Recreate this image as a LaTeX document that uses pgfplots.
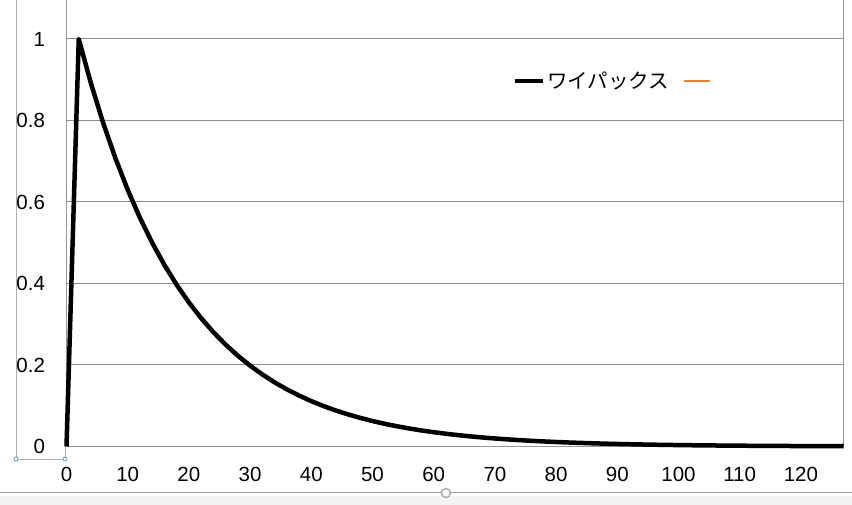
\documentclass[border=0pt]{standalone}
\usepackage{fontspec}
\setmainfont{Liberation Sans}
\newfontfamily\jp{Noto Sans CJK JP}
\usepackage{pgfplots}
\pgfplotsset{compat=1.18}
\definecolor{gridgray}{RGB}{140,140,140}
\definecolor{axgray}{RGB}{150,150,150}
\definecolor{xlorange}{RGB}{237,125,49}
\definecolor{uigray}{RGB}{165,165,165}
\definecolor{uibg}{RGB}{243,243,243}
\definecolor{selblue}{RGB}{91,155,213}
\definecolor{selgray}{RGB}{175,175,175}
\pgfplotsset{
  leglong/.style={legend image code/.code={\draw[##1] (0pt,0pt) -- (28pt,0pt);}},
  legshort/.style={legend image code/.code={\draw[##1] (0pt,0pt) -- (26pt,0pt);}},
}
\begin{document}
\begin{tikzpicture}
\useasboundingbox (0pt,0pt) rectangle (852pt,505pt);
\fill[white] (0pt,0pt) rectangle (852pt,505pt);
% bottom strip
\fill[uibg] (0pt,0pt) rectangle (852pt,9pt);
\draw[uigray, line width=1pt] (0pt,12pt) -- (852pt,12pt);
\draw[uigray, line width=1.3pt, fill=white] (446pt,12pt) circle (4.5pt);
% selection box round the y labels
\draw[selgray, line width=0.8pt] (16pt,505pt) -- (16pt,46pt) -- (65pt,46pt) -- (65pt,58.5pt);
\begin{axis}[
  at={(66.5pt,58.5pt)}, anchor=south west,
  x=6.12pt, y=407.5pt,
  xmin=0, xmax=127, ymin=0, ymax=1.1,
  clip=false,
  axis line style={axgray, line width=1pt},
  ymajorgrids, major grid style={gridgray, line width=1pt},
  xtick={0,10,...,120}, ytick={0,0.2,0.4,0.6,0.8,1},
  yticklabels={0,0.2,0.4,0.6,0.8,1},
  major tick length=0pt,
  tick label style={font=\fontsize{20.5}{24}\selectfont},
  /pgf/number format/assume math mode=true,
  xticklabel style={yshift=-17.5pt},
  yticklabel style={xshift=-18pt},
  legend columns=2,
  legend cell align=left,
  legend style={at={(0.5745,0.815)}, anchor=west, draw=none, fill=none,
    inner sep=0pt, outer sep=0pt,
    font=\jp\fontsize{20.5}{24}\selectfont,
    column sep=1.5pt,
    /tikz/every even column/.append style={column sep=14pt},
    nodes={inner sep=0pt}},
]
\addplot[black, line width=4.5pt, line join=round, leglong]
coordinates {
(0,0) (2,1) (4,0.89090) (6,0.79370) (8,0.70711) (10,0.62996) (12,0.56123)
(14,0.5) (16,0.44545) (18,0.39685) (20,0.35355) (22,0.31498) (24,0.28061)
(26,0.25) (28,0.22272) (30,0.19843) (32,0.17678) (34,0.15749) (36,0.14031)
(38,0.125) (40,0.11136) (42,0.099213) (44,0.088388) (46,0.078745) (48,0.070153)
(50,0.0625) (52,0.055681) (54,0.049606) (56,0.044194) (58,0.039373) (60,0.035077)
(62,0.03125) (64,0.027841) (66,0.024803) (68,0.022097) (70,0.019686) (72,0.017538)
(74,0.015625) (76,0.013920) (78,0.012402) (80,0.011049) (82,0.0098431) (84,0.0087692)
(86,0.0078125) (88,0.0069602) (90,0.0062008) (92,0.0055243) (94,0.0049216) (96,0.0043846)
(98,0.0039063) (100,0.0034801) (102,0.0031004) (104,0.0027621) (106,0.0024608) (108,0.0021923)
(110,0.0019531) (112,0.0017400) (114,0.0015502) (116,0.0013811) (118,0.0012304) (120,0.0010962)
(122,0.00097656) (124,0.00087002) (126,0.00077510) (127,0.000732)
};
\addlegendentry{ワイパックス}
\addlegendimage{xlorange, line width=2pt, legshort}
\addlegendentry{}
\end{axis}
\draw[selblue, line width=0.8pt, fill=white] (16pt,46pt) circle (2pt);
\draw[selblue, line width=0.8pt, fill=white] (65pt,46pt) circle (2pt);
\end{tikzpicture}
\end{document}
